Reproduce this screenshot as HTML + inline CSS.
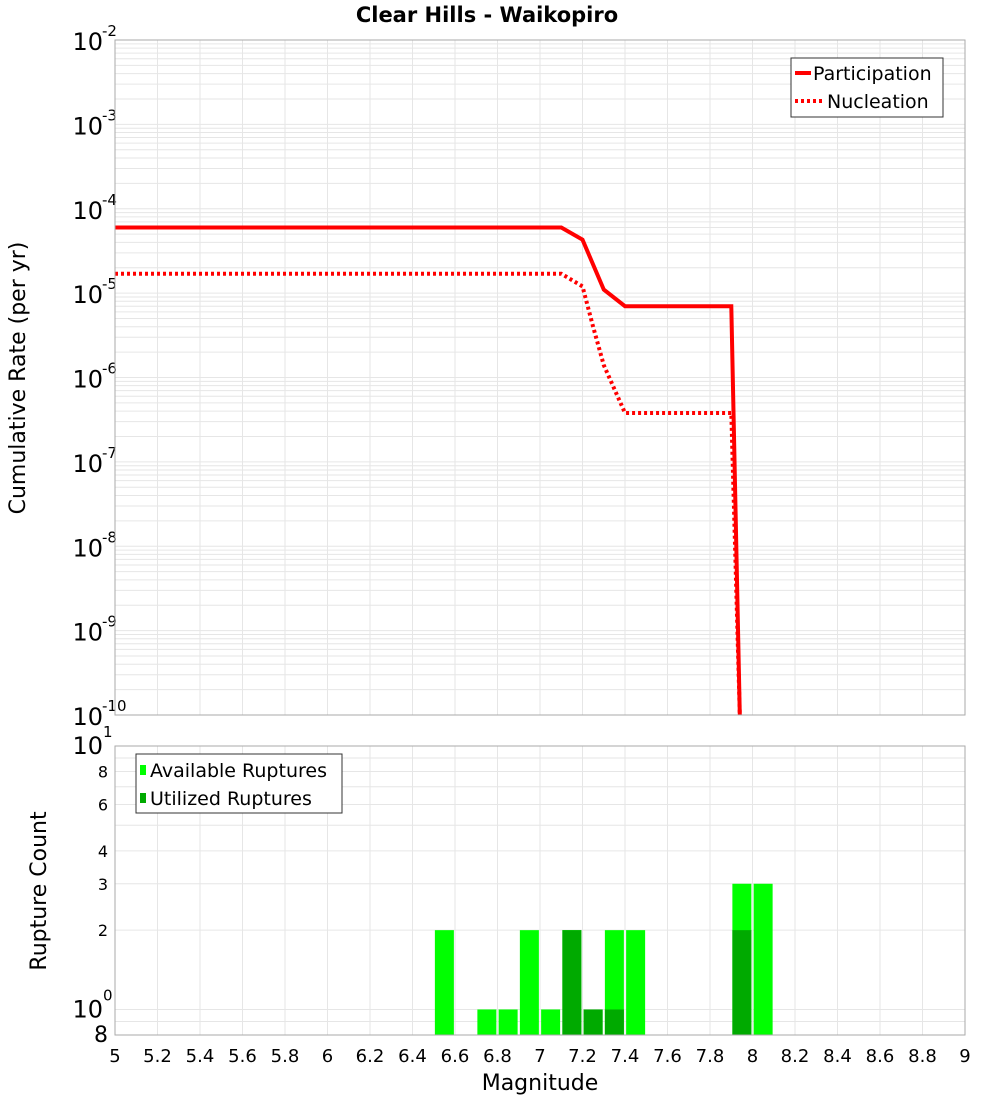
<!DOCTYPE html>
<html><head><meta charset="utf-8"><style>
body{margin:0;background:#fff;}
svg text{font-family:"DejaVu Sans","Liberation Sans",sans-serif;}
</style></head><body>
<svg id="chart" width="1000" height="1100" xmlns="http://www.w3.org/2000/svg">
<text x="487" y="22" text-anchor="middle" font-size="21" font-weight="bold">Clear Hills - Waikopiro</text>
<g id="topg"></g><g id="botg"></g>
<text transform="translate(25,378) rotate(-90)" text-anchor="middle" font-size="22">Cumulative Rate (per yr)</text>
<text transform="translate(46,891) rotate(-90)" text-anchor="middle" font-size="22">Rupture Count</text>
<text x="540" y="1090" text-anchor="middle" font-size="22">Magnitude</text>
</svg>
<script>
const partMag=[5,7.1,7.2,7.3,7.4,7.9,7.94];
const partRate=[6e-5,6e-5,4.3e-5,1.1e-5,7e-6,7e-6,1e-10];
const nuclMag=[5,7.1,7.2,7.25,7.3,7.4,7.9,7.94];
const nuclRate=[1.7e-5,1.7e-5,1.2e-5,4e-6,1.4e-6,3.8e-7,3.8e-7,1e-10];
const binMag=[6.5,6.7,6.8,6.9,7.0,7.1,7.2,7.3,7.4,7.9,8.0];
const availCount=[2,1,1,2,1,2,1,2,2,3,3];
const utilCount=[0,0,0,0,0,2,1,1,0,2,0];
const xTicks=[5,5.2,5.4,5.6,5.8,6,6.2,6.4,6.6,6.8,7,7.2,7.4,7.6,7.8,8,8.2,8.4,8.6,8.8,9];
const topExp=[-2,-3,-4,-5,-6,-7,-8,-9,-10];
const botTicks=[8,6,4,3,2];

const NS="http://www.w3.org/2000/svg";
const L=115,R=965,T1=40,B1=715,T2=746,B2=1035;
const xs=m=>L+(m-5)/4*(R-L);
const y1=v=>T1+(-2-Math.log10(v))/8*(B1-T1);
const y2=v=>T2+(1-Math.log10(v))/(1-Math.log10(0.8))*(B2-T2);
function mk(p,t,a){const e=document.createElementNS(NS,t);for(const k in a)e.setAttribute(k,a[k]);p.appendChild(e);return e;}
const topG=document.getElementById('topg'),botG=document.getElementById('botg');
for(let e=-10;e<-2;e++)for(let k=1;k<10;k++){const y=y1(k*Math.pow(10,e));const l=mk(topG,'line',{x1:L,x2:R,y1:y,y2:y,stroke:'#e6e6e6','stroke-width':1});

}
for(const m of xTicks){const l=mk(topG,'line',{x1:xs(m),x2:xs(m),y1:T1,y2:B1,stroke:'#e6e6e6'});


const l2=mk(botG,'line',{x1:xs(m),x2:xs(m),y1:T2,y2:B2,stroke:'#e6e6e6'});


const t=mk(botG,'text',{x:xs(m),y:1062,'text-anchor':'middle','font-size':18});t.textContent=String(m);

}
for(const v of [0.8,0.9,1,2,3,4,5,6,7,8,9,10]){const y=y2(v);const l=mk(botG,'line',{x1:L,x2:R,y1:y,y2:y,stroke:'#e6e6e6'});

}
for(const e of topExp){const y=y1(Math.pow(10,e));const t=mk(topG,'text',{x:103,y:y+10,'text-anchor':'end','font-size':24});t.textContent='10';


const s=mk(topG,'text',{x:102,y:y-4,'font-size':15});s.textContent=String(e);

}
function path(ms,rs){return ms.map((m,i)=>(i?'L':'M')+xs(m).toFixed(1)+','+Math.min(y1(rs[i]),B1).toFixed(1)).join(' ');}
const cp=mk(topG,'clipPath',{id:'c1'});mk(cp,'rect',{x:L,y:T1,width:R-L,height:B1-T1});
let p=mk(topG,'path',{d:path(partMag,partRate),fill:'none',stroke:'#ff0000','stroke-width':4,'clip-path':'url(#c1)'});


p=mk(topG,'path',{d:path(nuclMag,nuclRate),fill:'none',stroke:'#ff0000','stroke-width':4,'stroke-dasharray':'3,3','clip-path':'url(#c1)'});


let fr=mk(topG,'rect',{x:L,y:T1,width:R-L,height:B1-T1,fill:'none',stroke:'#aaaaaa'});


const lg=mk(topG,'g',{});


mk(lg,'rect',{x:791,y:58,width:152,height:59,fill:'#fff',stroke:'#333'});
mk(lg,'line',{x1:795,x2:811,y1:73,y2:73,stroke:'#f00','stroke-width':4});
mk(lg,'line',{x1:795,x2:823,y1:101,y2:101,stroke:'#f00','stroke-width':4,'stroke-dasharray':'3,3'});
let t=mk(lg,'text',{x:813,y:80,'font-size':19});t.textContent='Participation';
t=mk(lg,'text',{x:827,y:108,'font-size':19});t.textContent='Nucleation';
for(let i=0;i<binMag.length;i++){const x=xs(binMag[i]+0.05)-9.5;
let b=mk(botG,'rect',{x:x,y:y2(availCount[i]),width:19,height:B2-y2(availCount[i]),fill:'#00ff00'});


if(utilCount[i]>0){b=mk(botG,'rect',{x:x,y:y2(utilCount[i]),width:19,height:B2-y2(utilCount[i]),fill:'#00aa00'});

}}
fr=mk(botG,'rect',{x:L,y:T2,width:R-L,height:B2-T2,fill:'none',stroke:'#aaaaaa'});


for(const v of botTicks){t=mk(botG,'text',{x:108,y:y2(v)+6,'text-anchor':'end','font-size':16});t.textContent=String(v);

}
for(const [v,e] of [[10,'1'],[1,'0']]){const y=y2(v);t=mk(botG,'text',{x:103,y:y+8,'text-anchor':'end','font-size':24});t.textContent='10';


t=mk(botG,'text',{x:103,y:y-9,'font-size':15});t.textContent=e;

}
t=mk(botG,'text',{x:108,y:1042,'text-anchor':'end','font-size':22});t.textContent='8';


const lg2=mk(botG,'g',{});


mk(lg2,'rect',{x:136,y:754,width:206,height:59,fill:'#fff',stroke:'#333'});
mk(lg2,'rect',{x:140,y:765,width:6,height:10,fill:'#00ff00'});
mk(lg2,'rect',{x:140,y:793,width:6,height:10,fill:'#00aa00'});
t=mk(lg2,'text',{x:150,y:777,'font-size':19});t.textContent='Available Ruptures';
t=mk(lg2,'text',{x:150,y:805,'font-size':19});t.textContent='Utilized Ruptures';
</script>
</body></html>
